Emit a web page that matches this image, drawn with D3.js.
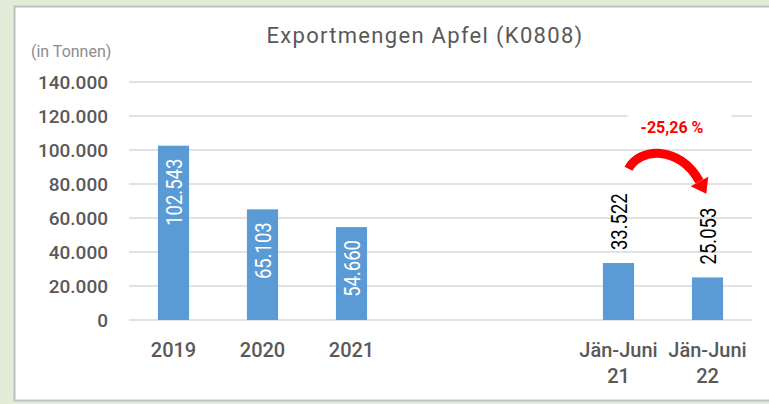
<!DOCTYPE html>
<html>
<head>
    <meta charset="utf-8">
    <script src="https://d3js.org/d3.v7.min.js"></script>
    <style>
        body {
            margin: 0;
            background-color: #e3ecd9;
            font-family: 'Roboto', sans-serif;
        }
    </style>
    <title>Exportmengen Apfel</title>
</head>
<body>
    <svg id="chart" width="769" height="404"></svg>

    <script>
        // chart data
        var categories = ["2019", "2020", "2021", "gap1", "gap2", "Jän-Juni 21", "Jän-Juni 22"];
        var catLabels = [["2019"], ["2020"], ["2021"], [], [], ["Jän-Juni", "21"], ["Jän-Juni", "22"]];
        var values = [102543, 65103, 54660, null, null, 33522, 25053];
        var valueLabels = ["102.543", "65.103", "54.660", "", "", "33.522", "25.053"];
        var labelInside = [true, true, true, false, false, false, false];
        var yTicks = [0, 20000, 40000, 60000, 80000, 100000, 120000, 140000];
        var yTickLabels = ["0", "20.000", "40.000", "60.000", "80.000", "100.000", "120.000", "140.000"];
        var changeLabel = "-25,26 %";

        var svg = d3.select("#chart");

        // white panel
        svg.append("rect")
            .attr("x", 14.5)
            .attr("y", 6.5)
            .attr("width", 770)
            .attr("height", 394)
            .attr("fill", "#ffffff")
            .attr("stroke", "#bfbfbf")
            .attr("stroke-width", 2);

        var xScale = d3.scaleBand()
            .domain(categories)
            .range([129, 752])
            .paddingInner(0.65)
            .paddingOuter(0.325);
        var yScale = d3.scaleLinear()
            .domain([0, 140000])
            .range([320, 82]);

        // gridlines
        svg.append("g")
            .selectAll("line")
            .data(yTicks)
            .enter()
            .append("line")
            .attr("x1", 129)
            .attr("x2", 752)
            .attr("y1", function (d) { return yScale(d); })
            .attr("y2", function (d) { return yScale(d); })
            .attr("stroke", "#d9d9d9")
            .attr("stroke-width", 1.5);

        // y axis labels
        var yAxis = d3.axisLeft(yScale)
            .tickValues(yTicks)
            .tickSize(0)
            .tickPadding(0)
            .tickFormat(function (d, i) { return yTickLabels[i]; });
        var yg = svg.append("g")
            .attr("transform", "translate(108,0)")
            .call(yAxis);
        yg.select(".domain").remove();
        yg.selectAll("text")
            .style("font-family", "Roboto")
            .style("font-size", "19px")
            .style("font-weight", "500")
            .style("fill", "#595959");

        // bars
        var idx = d3.range(categories.length).filter(function (i) { return values[i] != null; });
        svg.append("g")
            .selectAll("rect")
            .data(idx)
            .enter()
            .append("rect")
            .attr("x", function (i) { return xScale(categories[i]); })
            .attr("width", xScale.bandwidth())
            .attr("y", function (i) { return yScale(values[i]); })
            .attr("height", function (i) { return yScale(0) - yScale(values[i]); })
            .attr("fill", "#5b9bd5");

        // value labels (rotated)
        svg.append("g")
            .selectAll("text")
            .data(idx)
            .enter()
            .append("text")
            .attr("transform", function (i) {
                var cx = xScale(categories[i]) + xScale.bandwidth() / 2 + 1;
                var top = yScale(values[i]);
                var y = labelInside[i] ? top + 13 : top - 13;
                return "translate(" + cx + "," + y + ") rotate(-90) scale(0.84,1)";
            })
            .attr("text-anchor", function (i) { return labelInside[i] ? "end" : "start"; })
            .attr("dominant-baseline", "central")
            .style("font-family", "Roboto")
            .style("font-size", "22px")
            .style("font-weight", "400")
            .style("fill", function (i) { return labelInside[i] ? "#ffffff" : "#000000"; })
            .text(function (i) { return valueLabels[i]; });

        // x axis labels
        var xg = svg.append("g");
        categories.forEach(function (c, i) {
            var t = xg.append("text")
                .attr("x", xScale(c) + xScale.bandwidth() / 2)
                .attr("y", 357)
                .attr("text-anchor", "middle")
                .style("font-family", "Roboto")
                .style("font-size", "20px")
                .style("font-weight", "500")
                .style("fill", "#595959");
            catLabels[i].forEach(function (line, j) {
                t.append("tspan")
                    .attr("x", xScale(c) + xScale.bandwidth() / 2)
                    .attr("dy", j === 0 ? 0 : 26)
                    .text(line);
            });
        });

        // title
        svg.append("text")
            .attr("x", 425)
            .attr("y", 43)
            .attr("text-anchor", "middle")
            .style("font-family", "Roboto")
            .style("font-size", "22px")
            .style("font-weight", "400")
            .style("letter-spacing", "1.3px")
            .style("fill", "#595959")
            .text("Exportmengen Apfel (K0808)");

        svg.append("text")
            .attr("x", 31)
            .attr("y", 57)
            .style("font-family", "Roboto")
            .style("font-size", "16px")
            .style("fill", "#8c8c8c")
            .text("(in Tonnen)");

        // change annotation: white box behind label, curved arrow
        var c1 = xScale(categories[5]) + xScale.bandwidth() / 2;
        var c2 = xScale(categories[6]) + xScale.bandwidth() / 2;
        svg.append("rect")
            .attr("x", c1 + 9)
            .attr("y", yScale(128000))
            .attr("width", c2 - c1 + 15)
            .attr("height", yScale(108000) - yScale(128000))
            .attr("fill", "#ffffff");
        svg.append("text")
            .attr("x", (c1 + c2) / 2 + 9)
            .attr("y", yScale(110000))
            .attr("text-anchor", "middle")
            .style("font-family", "Roboto")
            .style("font-size", "16px")
            .style("font-weight", "bold")
            .style("fill", "#ff0000")
            .text(changeLabel);

        var p0 = [c1 + 10, yScale(89000)];
        var p1 = [c1 + 21, yScale(101500)];
        var p2 = [c2 - 28, yScale(103000)];
        var p3 = [c2 - 8, yScale(81500)];
        svg.append("path")
            .attr("d", "M" + p0 + " C" + p1 + " " + p2 + " " + p3)
            .attr("fill", "none")
            .attr("stroke", "#ff0000")
            .attr("stroke-width", 9);
        var dx = p3[0] - p2[0], dy = p3[1] - p2[1];
        var len = Math.sqrt(dx * dx + dy * dy);
        var ux = dx / len, uy = dy / len;
        var head = [
            [p3[0] - uy * 10, p3[1] + ux * 10],
            [p3[0] + uy * 10, p3[1] - ux * 10],
            [p3[0] + ux * 14, p3[1] + uy * 14]
        ];
        svg.append("path")
            .attr("d", "M" + head.join("L") + "Z")
            .attr("fill", "#ff0000");
    </script>
</body>
</html>
